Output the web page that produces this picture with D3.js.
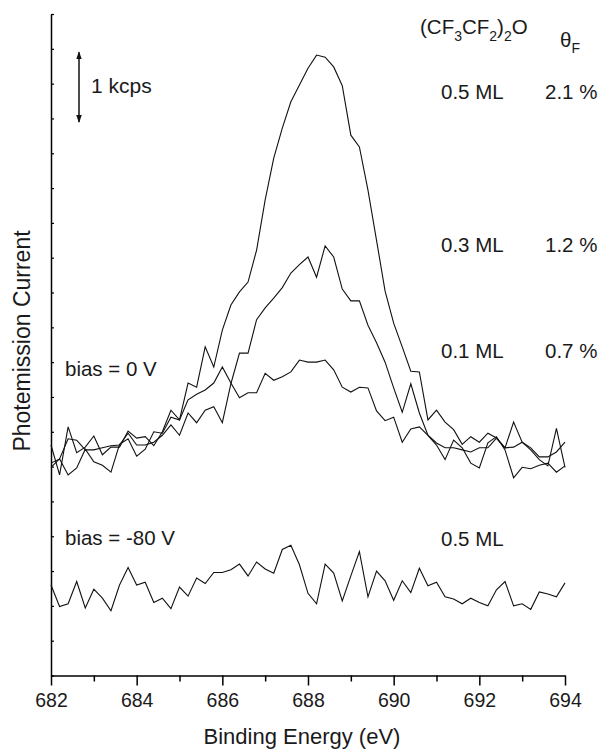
<!DOCTYPE html>
<html>
<head>
<meta charset="utf-8">
<script src="https://cdn.jsdelivr.net/npm/d3@7/dist/d3.min.js"></script>
<style>
  body { margin: 0; background: #fff; }
  text { font-family: "Liberation Sans", Arial, Helvetica, sans-serif; fill: #1a1a1a; }
</style>
</head>
<body>
<script>
// binding energy grid, 682 -> 694 eV in 0.2 eV steps
const energyStart = 682
const energyStep = 0.2
const energies = d3.range(61).map(i => +(energyStart + i * energyStep).toFixed(1))

// photemission current (kcps, offset stacked as in the figure)
const ml05 = [3.31, 2.88, 3.57, 3.20, 3.28, 3.44, 3.17, 3.28, 3.28, 3.51,
  3.41, 3.43, 3.30, 3.50, 3.81, 3.67, 4.20, 4.14, 4.72, 4.43,
  4.96, 5.32, 5.51, 5.65, 6.11, 6.83, 7.43, 7.86, 8.24, 8.48,
  8.72, 8.91, 8.88, 8.74, 8.47, 7.76, 7.59, 6.97, 6.25, 5.52,
  5.06, 4.72, 4.37, 4.36, 3.67, 3.81, 3.64, 3.53, 3.32, 3.43,
  3.35, 3.48, 3.41, 3.27, 3.64, 3.35, 3.24, 3.10, 3.01, 3.55, 2.99]

const ml03 = [3.05, 3.11, 3.40, 3.38, 3.24, 3.24, 3.27, 3.30, 3.31, 3.48,
  3.31, 3.31, 3.35, 3.45, 3.60, 3.45, 3.77, 3.63, 3.81, 3.86,
  3.63, 4.19, 4.63, 4.63, 5.11, 5.28, 5.42, 5.57, 5.78, 5.90,
  6.01, 5.72, 6.17, 6.01, 5.55, 5.38, 5.38, 5.03, 4.78, 4.50,
  4.13, 3.78, 4.19, 3.77, 3.45, 3.34, 3.27, 3.27, 3.24, 3.21,
  3.27, 3.27, 3.41, 3.27, 3.28, 3.35, 3.27, 3.14, 3.14, 3.21, 3.35]

const ml01 = [2.99, 3.11, 2.88, 2.98, 3.25, 3.07, 3.02, 2.92, 3.32, 3.40,
  3.15, 3.25, 3.50, 3.48, 3.71, 3.67, 3.96, 4.04, 4.10, 4.20,
  4.43, 4.20, 3.99, 4.06, 4.06, 4.34, 4.24, 4.29, 4.36, 4.53,
  4.50, 4.50, 4.53, 4.39, 4.14, 4.07, 4.14, 4.13, 3.80, 3.66,
  3.71, 3.35, 3.54, 3.57, 3.45, 3.31, 3.10, 3.38, 3.27, 3.05,
  2.98, 3.34, 3.43, 3.24, 2.84, 2.99, 2.97, 3.02, 3.05, 2.92, 3.01]

// 0.5 ML with -80 V bias
const ml05Bias = [1.30, 0.99, 1.03, 1.35, 0.97, 1.24, 1.11, 0.93, 1.30, 1.55,
  1.30, 1.34, 1.05, 1.11, 0.96, 1.27, 1.14, 1.40, 1.32, 1.48,
  1.48, 1.52, 1.60, 1.43, 1.63, 1.53, 1.47, 1.81, 1.87, 1.59,
  1.18, 1.03, 1.60, 1.47, 1.07, 1.43, 1.78, 1.13, 1.50, 1.36,
  1.08, 1.36, 1.19, 1.54, 1.29, 1.34, 1.13, 1.10, 1.03, 1.11,
  1.05, 1.00, 1.23, 1.35, 1.00, 1.03, 0.95, 1.20, 1.17, 1.13, 1.33]

const majorTicks = [682, 684, 686, 688, 690, 692, 694]
const minorTicks = [683, 685, 687, 689, 691, 693]
const coverages = ["0.5 ML", "0.3 ML", "0.1 ML"]
const thetaF = ["2.1 %", "1.2 %", "0.7 %"]
const scaleBar = [7.95, 8.95] // 1 kcps

const width = 601
const height = 754
const margin = { top: 14, right: 36, bottom: 78.5, left: 51 }

const svg = d3.select("body")
  .append("svg")
  .attr("width", width)
  .attr("height", height)

const xScale = d3.scaleLinear()
  .domain([682, 694])
  .range([margin.left, width - margin.right])

const yScale = d3.scaleLinear()
  .domain([0, 9.5])
  .range([height - margin.bottom, margin.top])

// y axis, unlabeled ticks pointing inward
svg.append("g")
  .attr("transform", `translate(${margin.left},0)`)
  .call(d3.axisLeft(yScale)
    .tickValues(d3.range(0, 9.51, 0.5))
    .tickSize(-3)
    .tickSizeOuter(0)
    .tickFormat(""))
  .call(g => g.select(".domain").attr("stroke-width", 1.5))
  .call(g => g.selectAll(".tick line").attr("stroke-width", 1.2))

// x axis, major ticks with labels
svg.append("g")
  .attr("transform", `translate(0,${height - margin.bottom})`)
  .call(d3.axisBottom(xScale)
    .tickValues(majorTicks)
    .tickSize(10)
    .tickSizeOuter(0)
    .tickPadding(8)
    .tickFormat(d3.format("d")))
  .call(g => g.select(".domain").attr("stroke-width", 1.5))
  .call(g => g.selectAll(".tick line").attr("stroke-width", 1.5))
  .call(g => g.selectAll("text")
    .attr("font-size", 19.5)
    .attr("font-family", "Liberation Sans, Arial, sans-serif")
    .attr("fill", "#1a1a1a"))

// minor ticks
svg.append("g")
  .attr("transform", `translate(0,${height - margin.bottom})`)
  .call(d3.axisBottom(xScale)
    .tickValues(minorTicks)
    .tickSize(6)
    .tickSizeOuter(0)
    .tickFormat(""))
  .call(g => g.select(".domain").remove())
  .call(g => g.selectAll(".tick line").attr("stroke-width", 1.5))

// spectra
const line = d3.line()
  .x((d, i) => xScale(energies[i]))
  .y(d => yScale(d))

svg.selectAll("path.spectrum")
  .data([ml05Bias, ml01, ml03, ml05])
  .enter()
  .append("path")
    .attr("class", "spectrum")
    .attr("d", line)
    .attr("fill", "none")
    .attr("stroke", "#111")
    .attr("stroke-width", 1.1)
    .attr("stroke-linejoin", "miter")

// 1 kcps scale arrow
const defs = svg.append("defs")
defs.append("marker")
  .attr("id", "head")
  .attr("viewBox", "0 0 8 8")
  .attr("refX", 7)
  .attr("refY", 4)
  .attr("markerWidth", 8)
  .attr("markerHeight", 8)
  .attr("markerUnits", "userSpaceOnUse")
  .attr("orient", "auto-start-reverse")
  .append("path")
    .attr("d", "M0,1.2 L8,4 L0,6.8 Z")
    .attr("fill", "#111")

svg.append("line")
  .attr("x1", 79)
  .attr("x2", 79)
  .attr("y1", yScale(scaleBar[1]))
  .attr("y2", yScale(scaleBar[0]))
  .attr("stroke", "#111")
  .attr("stroke-width", 1.5)
  .attr("marker-start", "url(#head)")
  .attr("marker-end", "url(#head)")

const labelSize = 20.5

svg.append("text")
  .attr("x", 91)
  .attr("y", 93)
  .attr("font-size", 21)
  .text("1 kcps")

// header: (CF3CF2)2O and theta_F
const header = svg.append("text")
  .attr("x", 420)
  .attr("y", 34)
  .attr("font-size", labelSize)
header.append("tspan").text("(CF")
header.append("tspan").attr("font-size", 14).attr("dy", 7).text("3")
header.append("tspan").attr("dy", -7).text("CF")
header.append("tspan").attr("font-size", 14).attr("dy", 7).text("2")
header.append("tspan").attr("dy", -7).text(")")
header.append("tspan").attr("font-size", 14).attr("dy", 7).text("2")
header.append("tspan").attr("dy", -7).text("O")

const theta = svg.append("text")
  .attr("x", 560)
  .attr("y", 47)
  .attr("font-size", labelSize)
theta.append("tspan").text("θ")
theta.append("tspan").attr("font-size", 14).attr("dy", 6).text("F")

// coverage labels next to each spectrum
const labelY = [99, 252, 358]
svg.selectAll("text.coverage")
  .data(coverages)
  .enter()
  .append("text")
    .attr("class", "coverage")
    .attr("x", 441)
    .attr("y", (d, i) => labelY[i])
    .attr("font-size", labelSize)
    .text(d => d)

svg.selectAll("text.theta")
  .data(thetaF)
  .enter()
  .append("text")
    .attr("class", "theta")
    .attr("x", 545)
    .attr("y", (d, i) => labelY[i])
    .attr("font-size", labelSize)
    .text(d => d)

svg.append("text")
  .attr("x", 65)
  .attr("y", 376)
  .attr("font-size", labelSize)
  .text("bias = 0 V")

svg.append("text")
  .attr("x", 65)
  .attr("y", 545)
  .attr("font-size", labelSize)
  .text("bias = -80 V")

svg.append("text")
  .attr("x", 441)
  .attr("y", 546)
  .attr("font-size", labelSize)
  .text("0.5 ML")

// axis titles
svg.append("text")
  .attr("transform", "translate(30,341) rotate(-90)")
  .attr("text-anchor", "middle")
  .attr("font-size", 23)
  .text("Photemission Current")

svg.append("text")
  .attr("x", 302)
  .attr("y", 744)
  .attr("text-anchor", "middle")
  .attr("font-size", 22)
  .text("Binding Energy (eV)")
</script>
</body>
</html>
